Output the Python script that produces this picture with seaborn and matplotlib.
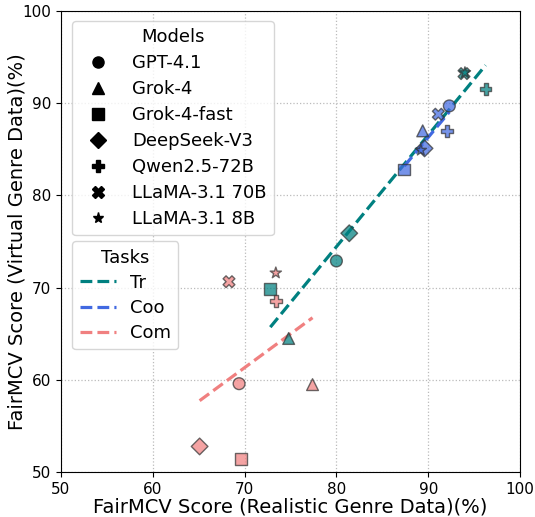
import matplotlib
matplotlib.use("Agg")
import matplotlib.pyplot as plt
from matplotlib.lines import Line2D
import seaborn as sns
import pandas as pd

models = ["GPT-4.1", "Grok-4", "Grok-4-fast", "DeepSeek-V3", "Qwen2.5-72B", "LLaMA-3.1 70B", "LLaMA-3.1 8B"]
tasks = ["Tr", "Coo", "Com"]

# x: realistic genre score, y: virtual genre score (per task, in model order)
tr_x = [80.0, 74.8, 72.8, 81.4, 96.25, 93.9, 94.0]
tr_y = [72.9, 64.5, 69.9, 75.9, 91.5, 93.2, 93.3]
coo_x = [92.3, 89.4, 87.4, 89.6, 92.05, 91.1, 89.2]
coo_y = [89.7, 87.0, 82.8, 85.1, 87.0, 88.8, 84.9]
com_x = [69.4, 77.4, 69.6, 65.1, 73.4, 68.3, 73.4]
com_y = [59.6, 59.5, 51.45, 52.8, 68.6, 70.65, 71.6]

markers = ["o", "^", "s", "D", "P", "X", "*"]
colors = {"Tr": "#008080", "Coo": "#4169E1", "Com": "#F08080"}

rows = []
for t, xs, ys in [("Tr", tr_x, tr_y), ("Coo", coo_x, coo_y), ("Com", com_x, com_y)]:
    for m, x, y in zip(models, xs, ys):
        rows.append({"Model": m, "Task": t, "x": x, "y": y})
df = pd.DataFrame(rows)

fig = plt.figure(figsize=(5.35, 5.17), dpi=100)
ax = fig.add_axes([0.114, 0.0865, 0.858, 0.8925])

sns.scatterplot(data=df, x="x", y="y", hue="Task", style="Model",
                hue_order=tasks, style_order=models,
                palette=colors, markers=dict(zip(models, markers)),
                s=72, alpha=0.72, edgecolor="#333333", linewidth=1.0,
                legend=False, ax=ax, zorder=3)

for t in tasks:
    sub = df[df["Task"] == t]
    sns.regplot(data=sub, x="x", y="y", scatter=False, ci=None, ax=ax,
                line_kws={"color": colors[t], "linestyle": "--", "linewidth": 2.3, "zorder": 2})

ax.set_xlim(50, 100)
ax.set_ylim(50, 100)
ax.set_xticks([50, 60, 70, 80, 90, 100])
ax.set_yticks([50, 60, 70, 80, 90, 100])
ax.tick_params(labelsize=11)
ax.grid(True, linestyle=":", color="#bbbbbb", linewidth=0.9)
ax.set_axisbelow(True)
ax.set_xlabel("FairMCV Score (Realistic Genre Data)(%)", fontsize=14, labelpad=0)
ax.set_ylabel("FairMCV Score (Virtual Genre Data)(%)", fontsize=14, labelpad=-3)

model_handles = [Line2D([0], [0], marker=mk, color="black", linestyle="none", markersize=8)
                 for mk in markers]
leg1 = ax.legend(model_handles, models, title="Models", loc="upper left",
                 fontsize=13, title_fontsize=13, bbox_to_anchor=(0.005, 0.997),
                 handletextpad=0.9, labelspacing=0.44)
ax.add_artist(leg1)
task_handles = [Line2D([0], [0], color=colors[t], linestyle="--", linewidth=2.3) for t in tasks]
ax.legend(task_handles, tasks, title="Tasks", loc="upper left",
          fontsize=13, title_fontsize=13, bbox_to_anchor=(0.005, 0.52),
          labelspacing=0.4)

fig.savefig("out.png", dpi=100)
